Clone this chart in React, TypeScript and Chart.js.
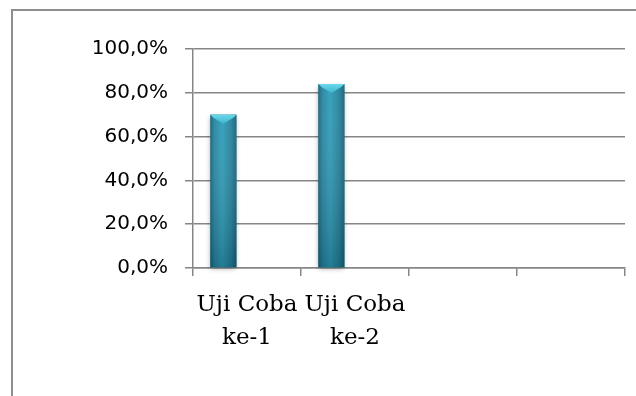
import React, { useEffect, useRef } from "react";
import { Chart, registerables } from "chart.js";

Chart.register(...registerables);

const categories: (string | string[])[] = [["Uji Coba", "ke-1"], ["Uji Coba", "ke-2"], "", ""];
const seriesHasil: (number | null)[] = [0.70, 0.84, null, null];
const seriesKosong: (number | null)[] = [null, null, null, null];
const yTicks: number[] = [0, 0.2, 0.4, 0.6, 0.8, 1.0];

const GRID = "#868686";

const framePlugin = {
  id: "frame",
  beforeDraw(chart: any) {
    const ctx = chart.ctx;
    ctx.save();
    ctx.fillStyle = "#ffffff";
    ctx.fillRect(0, 0, chart.width, chart.height);
    ctx.strokeStyle = "#8e8e8e";
    ctx.lineWidth = 2;
    ctx.strokeRect(12, 10, chart.width + 50, chart.height + 50);
    ctx.restore();
  },
};

const barStylePlugin = {
  id: "barStyle",
  afterDatasetsDraw(chart: any) {
    const ctx = chart.ctx;
    const meta = chart.getDatasetMeta(0);
    meta.data.forEach((el: any, i: number) => {
      if (seriesHasil[i] == null) return;
      const { x, y, base, width } = el.getProps(["x", "y", "base", "width"], true);
      const l = x - width / 2;
      const r = x + width / 2;
      const h = base - y;
      ctx.save();
      ctx.shadowColor = "rgba(0,0,0,0.35)";
      ctx.shadowBlur = 5;
      ctx.shadowOffsetY = 2;
      const g = ctx.createLinearGradient(l, 0, r, 0);
      g.addColorStop(0, "#1a6074");
      g.addColorStop(0.15, "#2584a0");
      g.addColorStop(0.45, "#2e9db8");
      g.addColorStop(0.8, "#23809a");
      g.addColorStop(1, "#1a5f73");
      ctx.fillStyle = g;
      ctx.fillRect(l, y, width, h);
      ctx.shadowColor = "transparent";
      const v = ctx.createLinearGradient(0, y, 0, base);
      v.addColorStop(0, "rgba(255,255,255,0.05)");
      v.addColorStop(1, "rgba(0,30,45,0.25)");
      ctx.fillStyle = v;
      ctx.fillRect(l, y, width, h);
      ctx.beginPath();
      ctx.moveTo(l, y);
      ctx.lineTo(r, y);
      ctx.lineTo(r - 3, y + 3);
      ctx.lineTo(x, y + 9);
      ctx.lineTo(l + 3, y + 3);
      ctx.closePath();
      const tg = ctx.createLinearGradient(0, y, 0, y + 9);
      tg.addColorStop(0, "#6ad8ec");
      tg.addColorStop(1, "#3fb3cc");
      ctx.fillStyle = tg;
      ctx.fill();
      ctx.restore();
    });
  },
};

export default function App() {
  const ref = useRef<HTMLCanvasElement | null>(null);

  useEffect(() => {
    if (!ref.current) return;
    const chart = new Chart(ref.current, {
      type: "bar",
      data: {
        labels: categories,
        datasets: [
          {
            label: "Hasil",
            data: seriesHasil,
            backgroundColor: "#2a8fa8",
            borderWidth: 0,
            categoryPercentage: 0.874,
            barPercentage: 0.55,
          },
          {
            label: "Kosong",
            data: seriesKosong,
            backgroundColor: "#2a8fa8",
            borderWidth: 0,
            categoryPercentage: 0.874,
            barPercentage: 0.55,
          },
        ],
      },
      options: {
        responsive: false,
        animation: false,
        layout: { padding: { left: 0, right: 11, top: 49, bottom: 0 } },
        plugins: {
          legend: { display: false },
          tooltip: { enabled: false },
        },
        scales: {
          x: {
            grid: {
              display: true,
              drawOnChartArea: false,
              drawTicks: true,
              tickLength: 8,
              color: GRID,
              lineWidth: 1.5,
              offset: true,
            },
            border: { display: true, color: GRID, width: 1.5 },
            ticks: {
              color: "#000000",
              font: { family: "DejaVu Serif", size: 23, lineHeight: 1.45 },
              padding: 12,
              maxRotation: 0,
              autoSkip: false,
            },
            afterFit(scale: any) {
              scale.height = 128;
            },
          },
          y: {
            min: 0,
            max: 1,
            afterBuildTicks(scale: any) {
              scale.ticks = yTicks.map((v) => ({ value: v }));
            },
            grid: {
              color: GRID,
              lineWidth: 1.5,
              tickLength: 8,
              drawTicks: true,
            },
            border: { display: true, color: GRID, width: 1.5 },
            ticks: {
              color: "#000000",
              font: { family: "DejaVu Sans", size: 20 },
              padding: 17,
              callback: (v: any) => (Number(v) * 100).toFixed(1).replace(".", ",") + "%",
            },
            afterFit(scale: any) {
              scale.width = 193;
            },
          },
        },
      },
      plugins: [framePlugin, barStylePlugin],
    });
    return () => chart.destroy();
  }, []);

  return (
    <div style={{ position: "fixed", left: 0, top: 0, width: 636, height: 396, background: "#fff" }}>
      <canvas ref={ref} width={636} height={396} style={{ display: "block", width: 636, height: 396 }} />
    </div>
  );
}
